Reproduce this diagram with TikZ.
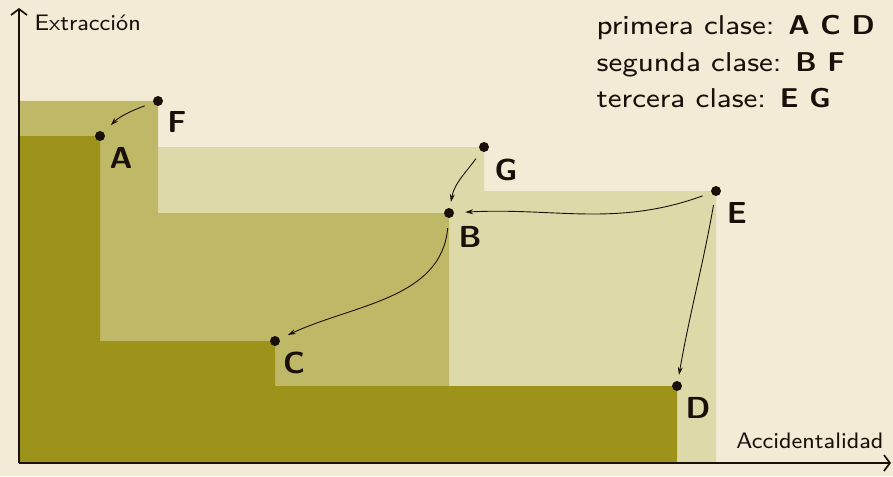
\documentclass[tikz,border=0pt]{standalone}
\usetikzlibrary{arrows.meta}
\definecolor{bgc}{RGB}{243,235,214}
\definecolor{darkc}{RGB}{158,147,26}
\definecolor{medc}{RGB}{191,184,102}
\definecolor{lightc}{RGB}{222,217,169}
\definecolor{inkc}{RGB}{26,16,10}
\begin{document}
\begin{tikzpicture}[x=1pt,y=-1pt,
  dotc/.style={circle,fill=inkc,inner sep=0pt,minimum size=10pt},
  lbl/.style={font=\fontsize{8}{10}\selectfont\sffamily\bfseries,xscale=3.9,yscale=3.8,text=inkc,inner sep=0pt},
  legend/.style={font=\fontsize{8}{10}\selectfont\sffamily,xscale=3.65,yscale=3.4,text=inkc,inner sep=0pt,anchor=base west},
  axlbl/.style={font=\fontsize{8}{10}\selectfont\sffamily,xscale=2.85,yscale=2.8,text=inkc,inner sep=0pt},
  axis/.style={draw=inkc,line width=1.7pt,-{Straight Barb[length=6pt,width=16pt,line width=1.7pt]}},
  mv/.style={draw=inkc,line width=0.9pt,-{Stealth[length=8pt,width=5pt]}}]
\fill[bgc] (0,0) rectangle (893,476);
\useasboundingbox (0,0) rectangle (893,476);
% third class region
\fill[lightc] (19,462) -- (19,147) -- (484,147) -- (484,191) -- (716,191) -- (716,462) -- cycle;
% second class region
\fill[medc] (19,462) -- (19,101) -- (158,101) -- (158,213) -- (449,213) -- (449,462) -- cycle;
% first class region
\fill[darkc] (19,462) -- (19,136) -- (100,136) -- (100,341) -- (275,341) -- (275,386) -- (677,386) -- (677,462) -- cycle;
% axes
\coordinate (O) at (19,463);
\coordinate (Ytop) at (19,8);
\coordinate (Xend) at (891,463);
\draw[axis] (O) -- (Ytop);
\draw[axis] (O) -- (Xend);
\node[axlbl,anchor=west] (ylab) at (34,23) {Extracción};
\node[axlbl,anchor=east] (xlab) at (884,441) {Accidentalidad};
% points
\node[dotc] (F) at (158,101) {};
\node[dotc] (A) at (100,136) {};
\node[dotc] (G) at (484,147) {};
\node[dotc] (B) at (449,213) {};
\node[dotc] (E) at (716,191) {};
\node[dotc] (C) at (275,341) {};
\node[dotc] (D) at (677,386) {};
\node[lbl] (Fl) at ([shift={(19,21)}]F) {F};
\node[lbl] (Al) at ([shift={(21,22)}]A) {A};
\node[lbl] (Gl) at ([shift={(22,23)}]G) {G};
\node[lbl] (Bl) at ([shift={(21,24)}]B) {B};
\node[lbl] (El) at ([shift={(21,22)}]E) {E};
\node[lbl] (Cl) at ([shift={(19,22)}]C) {C};
\node[lbl] (Dl) at ([shift={(21,22)}]D) {D};
% moves
\draw[mv,shorten <=9pt,shorten >=10pt] (F) to[out=200,in=45] (A);
\draw[mv,shorten <=9pt,shorten >=6pt] (G) to[out=235,in=80] (B);
\draw[mv,shorten <=9pt,shorten >=11pt] (E) to[out=200,in=3] (B);
\draw[mv,shorten <=10pt,shorten >=9pt] (B) to[out=265,in=25] (C);
\draw[mv,shorten <=9pt,shorten >=6pt] (E) to[out=260,in=80] (D);
% legend
\node[legend] (l1) at (596,35) {primera clase: \textbf{A C D}};
\node[legend] (l2) at (596,72) {segunda clase: \textbf{B F}};
\node[legend] (l3) at (596,108) {tercera clase: \textbf{E G}};
\end{tikzpicture}
\end{document}
